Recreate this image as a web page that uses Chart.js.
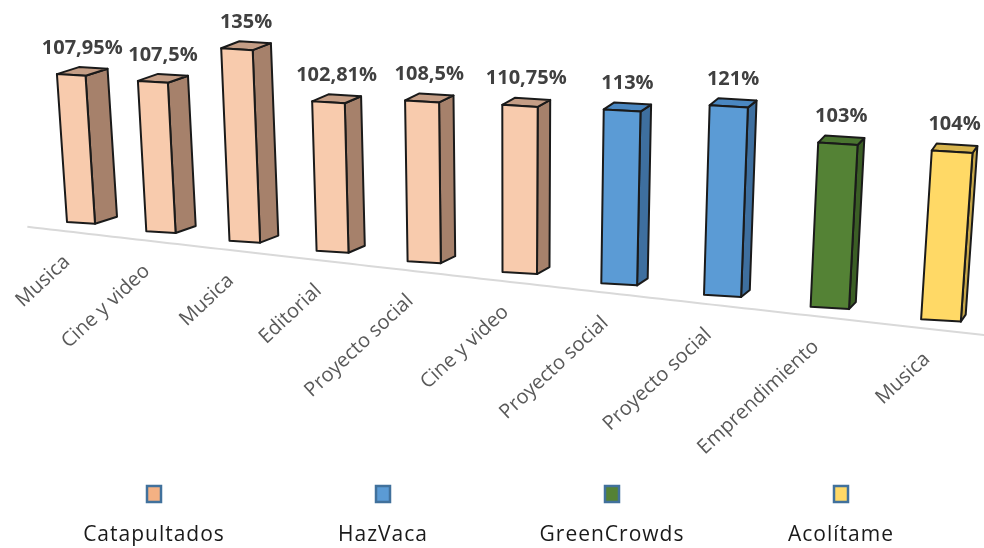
<!DOCTYPE html>
<html>
<head>
<meta charset="utf-8">
<script src="https://cdn.jsdelivr.net/npm/chart.js@4"></script>
<style>
html, body { margin: 0; padding: 0; background: #fff; }
#wrap { width: 984px; height: 548px; }
</style>
</head>
<body>
<div id="wrap"><canvas id="chart"></canvas></div>
<script>
// Chart data
const categories = ['Musica', 'Cine y video', 'Musica', 'Editorial', 'Proyecto social',
    'Cine y video', 'Proyecto social', 'Proyecto social', 'Emprendimiento', 'Musica'];
const values = [107.95, 107.5, 135, 102.81, 108.5, 110.75, 113, 121, 103, 104];
const barPlatform = ['Catapultados', 'Catapultados', 'Catapultados', 'Catapultados', 'Catapultados',
    'Catapultados', 'HazVaca', 'HazVaca', 'GreenCrowds', 'Acolítame'];
const platforms = ['Catapultados', 'HazVaca', 'GreenCrowds', 'Acolítame'];

// Colours of each column face
const faceColors = {
    'Catapultados': { front: '#F8CBAD', side: '#A6816B', top: '#C59E86', legend: '#F4B183' },
    'HazVaca':      { front: '#5B9BD5', side: '#3E6F9F', top: '#4A87C1', legend: '#5B9BD5' },
    'GreenCrowds':  { front: '#548235', side: '#3B5E25', top: '#4A7430', legend: '#548235' },
    'Acolítame':    { front: '#FFD966', side: '#C8A84A', top: '#D7B44E', legend: '#FFD966' }
};

// Perspective of the 3D view: u is the fractional category index
function floorPoint(u) {
    return { x: 81 + 78 * u + 1.95 * u * u, y: 222 + 9 * u + 0.2 * u * u };
}
function heightScale(u) { return 1.37 + 0.028 * u; }
function frontWidth(u) { return 28 + 1.3 * u; }
function depth(u) { return { x: 22 - 1.9 * u, y: -7 }; }
const vanishX = 510, vanishDist = 6500, edgeSlope = 0.06;

function formatPct(v) {
    return String(v).replace('.', ',') + '%';
}

function poly(ctx, pts, fill) {
    ctx.beginPath();
    ctx.moveTo(pts[0].x, pts[0].y);
    for (let k = 1; k < pts.length; k++) ctx.lineTo(pts[k].x, pts[k].y);
    ctx.closePath();
    ctx.fillStyle = fill;
    ctx.fill();
    ctx.stroke();
}

const columns3d = {
    id: 'columns3d',
    beforeDatasetsDraw(chart) {
        const ctx = chart.ctx;
        const meta = chart.getDatasetMeta(0);
        const xs = chart.scales.x, ys = chart.scales.y;
        const x0 = xs.getPixelForValue(0);
        const step = xs.getPixelForValue(1) - x0;
        const pxPerUnit = ys.getPixelForValue(0) - ys.getPixelForValue(1);

        ctx.save();
        // front edge of the floor
        ctx.strokeStyle = '#D9D9D9';
        ctx.lineWidth = 2;
        ctx.beginPath();
        for (let u = -0.7; u <= 9.5; u += 0.1) {
            const p = floorPoint(u);
            if (u === -0.7) ctx.moveTo(p.x, p.y + 11); else ctx.lineTo(p.x, p.y + 11);
        }
        ctx.stroke();

        meta.data.forEach((bar, i) => {
            const u = (bar.x - x0) / step;
            const h = (bar.base - bar.y) / pxPerUnit * heightScale(u);
            const b = floorPoint(u);
            const w = frontWidth(u);
            const d = depth(u);
            const tx = b.x + (b.x - vanishX) * h / vanishDist;
            const tw = w * (1 + h / vanishDist);
            const bl = { x: b.x - w / 2, y: b.y };
            const br = { x: b.x + w / 2, y: b.y + w * edgeSlope };
            const tl = { x: tx - tw / 2, y: b.y - h };
            const tr = { x: tx + tw / 2, y: b.y - h + tw * edgeSlope };
            const sh = (p) => ({ x: p.x + d.x, y: p.y + d.y });
            const c = faceColors[barPlatform[i]];

            ctx.strokeStyle = '#1A1A1A';
            ctx.lineWidth = 2;
            ctx.lineJoin = 'round';
            poly(ctx, [br, tr, sh(tr), sh(br)], c.side);
            poly(ctx, [tl, tr, sh(tr), sh(tl)], c.top);
            poly(ctx, [bl, br, tr, tl], c.front);

            // value label
            ctx.fillStyle = '#404040';
            ctx.font = 'bold 20px "Open Sans"';
            ctx.textAlign = 'center';
            ctx.textBaseline = 'middle';
            ctx.fillText(formatPct(values[i]), tx + d.x / 2, b.y - h - 26);

            // category label
            ctx.save();
            ctx.translate(b.x - 14, b.y + 37);
            ctx.rotate(-43 * Math.PI / 180);
            ctx.fillStyle = '#595959';
            ctx.font = '20px "Open Sans"';
            ctx.textAlign = 'right';
            ctx.textBaseline = 'middle';
            ctx.fillText(chart.data.labels[i], 0, 0);
            ctx.restore();
        });
        ctx.restore();
        return false;
    },
    afterDraw(chart) {
        const ctx = chart.ctx;
        ctx.save();
        platforms.forEach((name, k) => {
            const cx = 154 + 229 * k;
            ctx.fillStyle = faceColors[name].legend;
            ctx.strokeStyle = '#41719C';
            ctx.lineWidth = 2.5;
            ctx.fillRect(cx - 7, 486, 14, 16);
            ctx.strokeRect(cx - 7, 486, 14, 16);
            ctx.fillStyle = '#1A1A1A';
            ctx.font = '21px "Open Sans"';
            ctx.letterSpacing = '1px';
            ctx.textAlign = 'center';
            ctx.textBaseline = 'alphabetic';
            ctx.fillText(name, cx, 541);
        });
        ctx.restore();
    }
};

new Chart(document.getElementById('chart'), {
    type: 'bar',
    data: {
        labels: categories,
        datasets: [{
            label: 'Porcentaje recaudado',
            data: values,
            backgroundColor: barPlatform.map(p => faceColors[p].front)
        }]
    },
    options: {
        responsive: true,
        maintainAspectRatio: false,
        animation: false,
        layout: { padding: { top: 40, bottom: 200, left: 40, right: 40 } },
        scales: {
            x: { display: false },
            y: { display: false, min: 0, max: 140 }
        },
        plugins: {
            legend: { display: false },
            tooltip: { enabled: false }
        }
    },
    plugins: [columns3d]
});
</script>
</body>
</html>
